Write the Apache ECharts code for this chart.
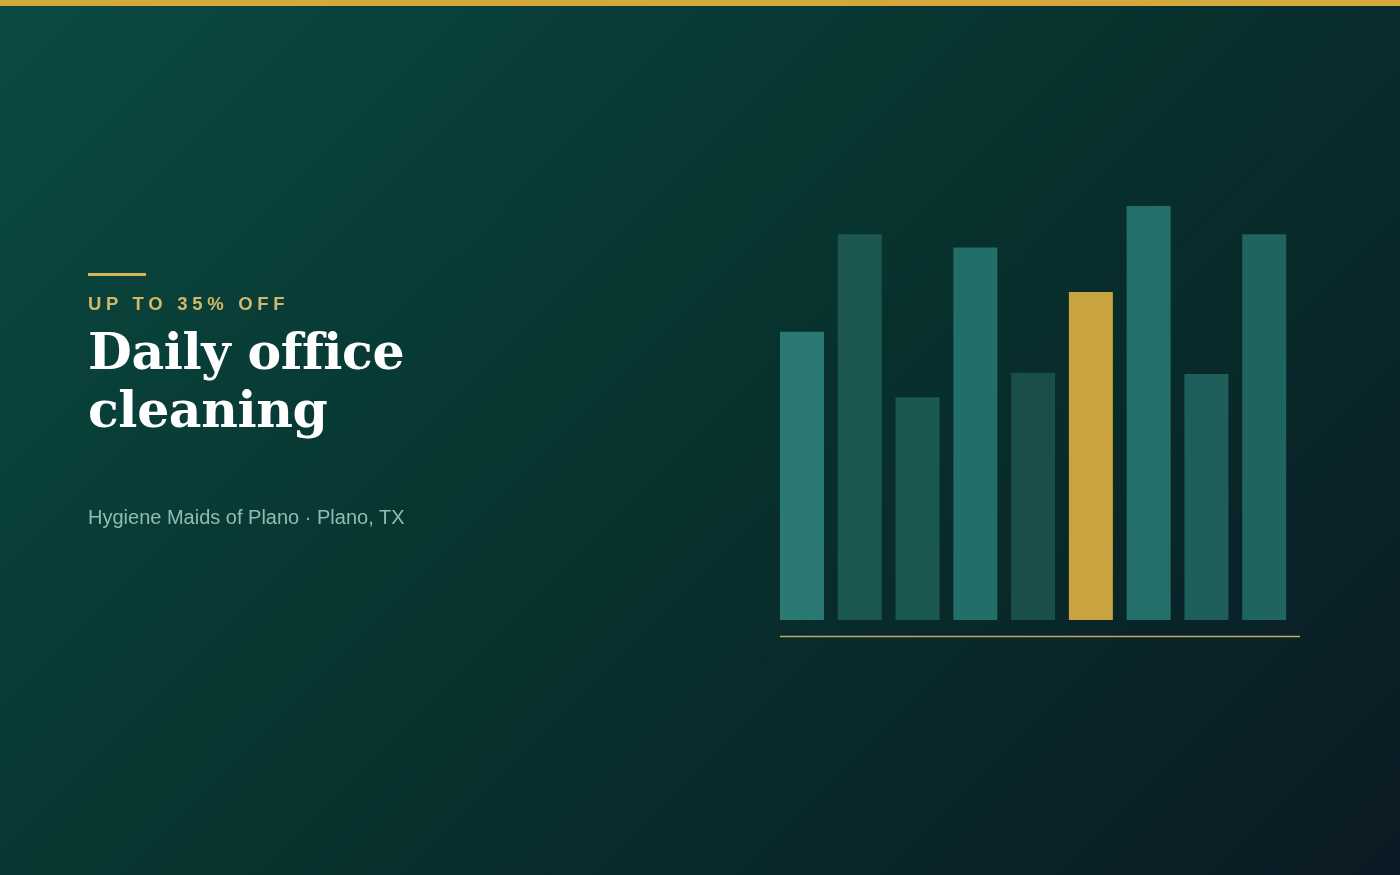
<!DOCTYPE html>
<html>
<head>
<meta charset="utf-8">
<script src="https://cdn.jsdelivr.net/npm/echarts@6/dist/echarts.min.js"></script>
<style>
  html, body { margin: 0; padding: 0; width: 1400px; height: 875px; overflow: hidden; }
  #page {
    position: relative; width: 1400px; height: 875px;
    background: linear-gradient(135deg, #0b4a42 0%, #07322e 50%, #0b1a24 100%);
  }
  #topbar { position: absolute; left: 0; top: 0; width: 1400px; height: 6px; background: #d4a93c; z-index: 3; }
  #chart { position: absolute; left: 0; top: 0; width: 1400px; height: 875px; z-index: 1; }
  .txt { position: absolute; left: 88px; z-index: 2; white-space: nowrap; }
  #rule { position: absolute; left: 88px; top: 273px; width: 58px; height: 3px; background: #d4b45e; z-index: 2; }
  #eyebrow { top: 292px; font-family: "Liberation Sans", Arial, sans-serif; font-weight: bold; font-size: 18.5px; letter-spacing: 4.7px; color: #d4b867; line-height: 24px; }
  #headline { top: 323px; font-family: "DejaVu Serif", serif; font-weight: bold; font-size: 50.5px; line-height: 58px; color: #ffffff; letter-spacing: -0.4px; }
  #sub { top: 505px; font-family: "Liberation Sans", Arial, sans-serif; font-size: 20px; color: #8fbdb3; line-height: 24px; }
</style>
</head>
<body>
<div id="page">
  <div id="topbar"></div>
  <div id="chart"></div>
  <div id="rule"></div>
  <div class="txt" id="eyebrow">UP TO 35% OFF</div>
  <div class="txt" id="headline">Daily office<br>cleaning</div>
  <div class="txt" id="sub">Hygiene Maids of Plano · Plano, TX</div>
</div>
<script>
const categories = ['1', '2', '3', '4', '5', '6', '7', '8', '9'];
const values = [69.6, 93.2, 53.8, 90, 59.7, 79.2, 100, 59.4, 93.2];
const barColors = ['#2a7a73', '#1b5650', '#1b5852', '#226e68', '#1a4e4b', '#c9a33e', '#236f69', '#1f5f5b', '#206460'];

const chart = echarts.init(document.getElementById('chart'), null, { renderer: 'canvas' });
chart.setOption({
  backgroundColor: 'transparent',
  animation: false,
  grid: { left: 773.1, top: 206, width: 520, height: 414 },
  xAxis: {
    type: 'category', data: categories, boundaryGap: true,
    axisLine: { show: false }, axisTick: { show: false }, axisLabel: { show: false }, splitLine: { show: false }
  },
  yAxis: {
    type: 'value', min: 0, max: 100, show: false, splitLine: { show: false }
  },
  series: [{
    type: 'bar',
    barWidth: 44,
    data: values.map((v, i) => ({ value: v, itemStyle: { color: barColors[i] } })),
    silent: true
  }],
  graphic: [{
    type: 'line',
    shape: { x1: 780, y1: 636.5, x2: 1300, y2: 636.5 },
    style: { stroke: '#c2a95e', lineWidth: 1.6 },
    silent: true
  }]
});
</script>
</body>
</html>
